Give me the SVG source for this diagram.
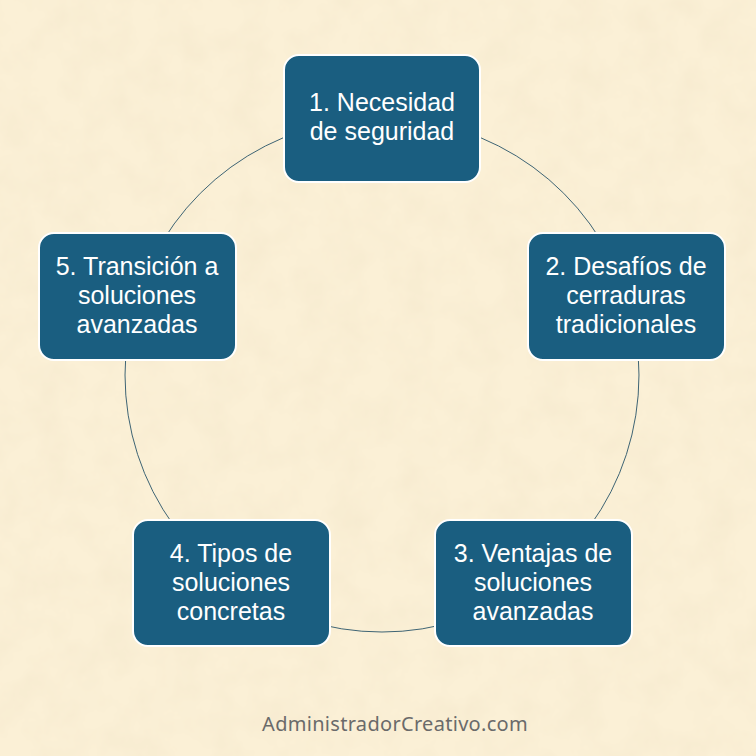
<svg xmlns="http://www.w3.org/2000/svg" width="756" height="756" viewBox="0 0 756 756">
  <defs>
    <filter id="paper" x="0" y="0" width="100%" height="100%">
      <feTurbulence type="fractalNoise" baseFrequency="0.03" numOctaves="4" seed="4" result="n"/>
      <feColorMatrix in="n" type="matrix" values="0 0 0 0 0.90  0 0 0 0 0.80  0 0 0 0 0.60  0 0 0 0.9 -0.3" />
    </filter>
    <style>
      .box { fill: #1A5E80; stroke: #FFFFFF; stroke-width: 2; }
      .lbl { font-family: "Liberation Sans", Arial, sans-serif; font-size: 25px; fill: #FFFFFF; text-anchor: middle; }
      .arc { fill: none; stroke: #3E6474; stroke-width: 1; }
      .foot { font-family: "Noto Sans", "Liberation Sans", sans-serif; font-size: 20px; fill: #6A6A6A; text-anchor: middle; letter-spacing: 0.3px; }
    </style>
  </defs>
  <rect width="756" height="756" fill="#FBF0D6"/>
  <rect width="756" height="756" filter="url(#paper)"/>

  <g id="connectors">
    <path class="arc" d="M382 118 A257 257 0 0 1 626.4 295.6"/>
    <path class="arc" d="M626.4 295.6 A257 257 0 0 1 533.1 582.9"/>
    <path class="arc" d="M533.1 582.9 A257 257 0 0 1 230.9 582.9"/>
    <path class="arc" d="M230.9 582.9 A257 257 0 0 1 137.6 295.6"/>
    <path class="arc" d="M137.6 295.6 A257 257 0 0 1 382 118"/>
  </g>

  <g id="node1">
    <rect class="box" x="284" y="55" width="196" height="127" rx="15"/>
    <text class="lbl" x="382" y="111">1. Necesidad</text>
    <text class="lbl" x="382" y="140">de seguridad</text>
  </g>
  <g id="node2">
    <rect class="box" x="528" y="233" width="197" height="127" rx="15"/>
    <text class="lbl" x="626" y="275">2. Desafíos de</text>
    <text class="lbl" x="626" y="304">cerraduras</text>
    <text class="lbl" x="626" y="333">tradicionales</text>
  </g>
  <g id="node3">
    <rect class="box" x="435" y="520" width="197" height="126" rx="15"/>
    <text class="lbl" x="533" y="562">3. Ventajas de</text>
    <text class="lbl" x="533" y="591">soluciones</text>
    <text class="lbl" x="533" y="620">avanzadas</text>
  </g>
  <g id="node4">
    <rect class="box" x="133" y="520" width="197" height="126" rx="15"/>
    <text class="lbl" x="231" y="562">4. Tipos de</text>
    <text class="lbl" x="231" y="591">soluciones</text>
    <text class="lbl" x="231" y="620">concretas</text>
  </g>
  <g id="node5">
    <rect class="box" x="39" y="233" width="197" height="127" rx="15"/>
    <text class="lbl" x="137" y="275">5. Transición a</text>
    <text class="lbl" x="137" y="304">soluciones</text>
    <text class="lbl" x="137" y="333">avanzadas</text>
  </g>

  <text class="foot" x="395" y="731">AdministradorCreativo.com</text>
</svg>
